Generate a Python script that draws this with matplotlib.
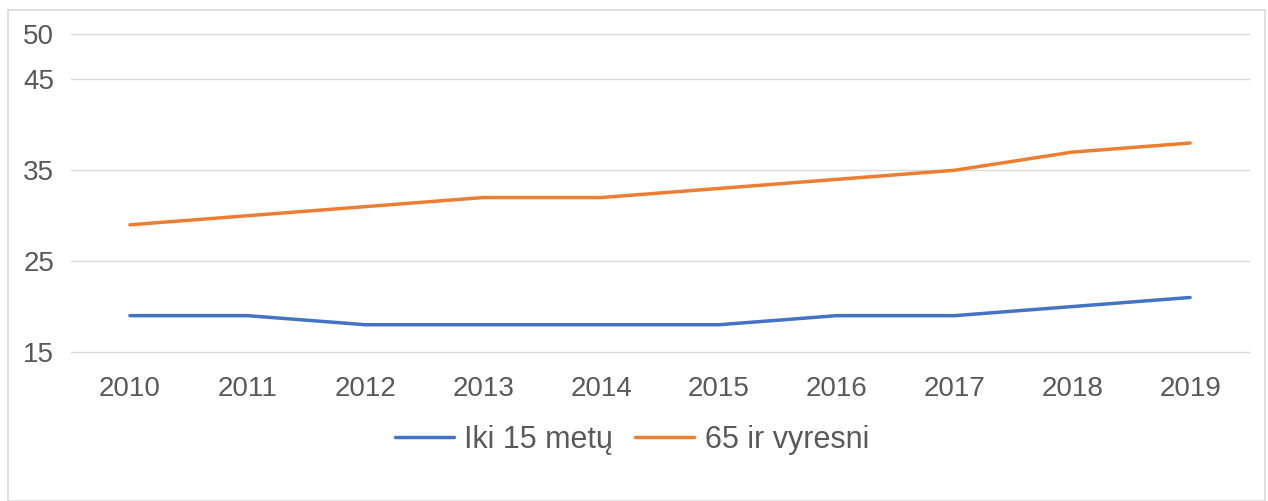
import matplotlib.pyplot as plt
from matplotlib.patches import Rectangle

years = [2010, 2011, 2012, 2013, 2014, 2015, 2016, 2017, 2018, 2019]
iki_15 = [19, 19, 18, 18, 18, 18, 19, 19, 20, 21]
virs_65 = [29, 30, 31, 32, 32, 33, 34, 35, 37, 38]
y_ticks = [15, 25, 35, 45, 50]

plt.rcParams['font.family'] = ['Liberation Sans', 'DejaVu Sans']

fig = plt.figure(figsize=(12.68, 5.01), dpi=100)
fig.patches.append(Rectangle((8 / 1268, 0), 1257 / 1268, 491 / 501, transform=fig.transFigure,
                             fill=False, edgecolor="#d9d9d9", linewidth=1.2))

ax = fig.add_axes([71 / 1268, 1 - 352 / 501, 1178 / 1268, 318 / 501])
x = list(range(len(years)))
ax.plot(x, iki_15, color="#4472C4", linewidth=2.5, label="Iki 15 metų", solid_capstyle="round")
ax.plot(x, virs_65, color="#ED7D31", linewidth=2.5, label="65 ir vyresni", solid_capstyle="round")

ax.set_xlim(-0.5, len(years) - 0.5)
ax.set_ylim(15, 50)
ax.set_yticks(y_ticks)
ax.set_xticks(x)
ax.set_xticklabels([str(y) for y in years])
ax.grid(axis="y", color="#d9d9d9", linewidth=1)
for gl in ax.get_ygridlines():
    gl.set_clip_on(False)
ax.set_axisbelow(True)
for s in ax.spines.values():
    s.set_visible(False)
ax.tick_params(length=0, labelsize=20, labelcolor="#595959")
ax.tick_params(axis="y", pad=12)
ax.tick_params(axis="x", pad=17)

ax.legend(loc="center", bbox_to_anchor=(0.476, -0.277), ncol=2, frameon=False,
          fontsize=22, labelcolor="#595959", handlelength=1.93, columnspacing=0.75,
          handletextpad=0.33)

fig.savefig("out.png", dpi=100)
